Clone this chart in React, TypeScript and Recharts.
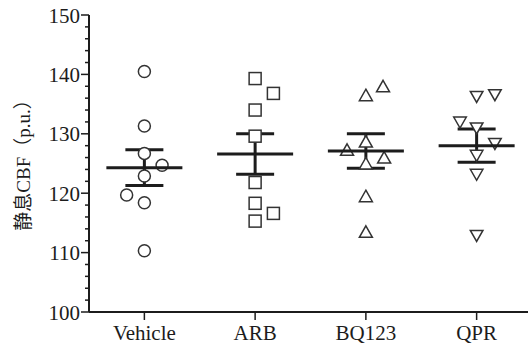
import React from 'react';
import { ScatterChart, Scatter, XAxis, YAxis, ErrorBar } from 'recharts';

// groups and tick labels
const groups = ['Vehicle', 'ARB', 'BQ123', 'QPR'];
const yMajorTicks = [100, 110, 120, 130, 140, 150];
const yAllTicks = [
  100, 102, 104, 106, 108, 110, 112, 114, 116, 118, 120, 122, 124,
  126, 128, 130, 132, 134, 136, 138, 140, 142, 144, 146, 148, 150,
];
const yLabel = '静息CBF（p.u.）';

// individual animals (value + horizontal jitter in group units)
const vehicleValues = [140.5, 131.3, 126.7, 124.7, 122.9, 119.7, 118.4, 110.3];
const vehicleJitter = [0, 0, 0, 0.16, 0, -0.16, 0, 0];
const arbValues = [139.3, 136.8, 134.0, 129.6, 121.8, 118.3, 116.6, 115.3];
const arbJitter = [0, 0.165, 0, 0, 0, 0, 0.165, 0];
const bq123Values = [138.0, 136.5, 127.3, 128.7, 126.0, 125.0, 119.5, 113.5];
const bq123Jitter = [0.155, 0, -0.17, 0, 0.165, 0, 0, 0];
const qprValues = [136.2, 136.5, 131.9, 130.9, 128.3, 126.3, 123.1, 112.8];
const qprJitter = [0, 0.165, -0.15, 0, 0.165, 0, 0, 0];

// mean ± SEM per group
const means = [124.3, 126.6, 127.1, 128.0];
const sems = [3.0, 3.4, 2.9, 2.8];

const toPoints = (idx: number, values: number[], jitter: number[]) =>
  values.map((v, i) => ({ x: idx + 1 + jitter[i], y: v }));

const vehicleData = toPoints(0, vehicleValues, vehicleJitter);
const arbData = toPoints(1, arbValues, arbJitter);
const bq123Data = toPoints(2, bq123Values, bq123Jitter);
const qprData = toPoints(3, qprValues, qprJitter);
const meanData = means.map((m, i) => ({ x: i + 1, y: m, sem: sems[i] }));

const INK = '#1c1c1c';
const SERIF = '"Liberation Serif", "Times New Roman", serif';
const LABEL_FONT = '"Liberation Serif", "Noto Sans CJK SC", serif';

const Marker = (kind: string) => (props: any) => {
  const { cx, cy } = props;
  const common = { fill: '#fff', stroke: '#333', strokeWidth: 1.5 };
  if (kind === 'circle') return <circle cx={cx} cy={cy} r={6} {...common} />;
  if (kind === 'square') return <rect x={cx - 6} y={cy - 6} width={12} height={12} {...common} />;
  if (kind === 'triangle')
    return <polygon points={`${cx},${cy - 6} ${cx + 6.5},${cy + 5.5} ${cx - 6.5},${cy + 5.5}`} {...common} />;
  return <polygon points={`${cx - 6.3},${cy - 5.5} ${cx + 6.3},${cy - 5.5} ${cx},${cy + 5.5}`} {...common} />;
};

const MeanLine = (props: any) => {
  const { cx, cy } = props;
  return <line x1={cx - 38} x2={cx + 38} y1={cy} y2={cy} stroke={INK} strokeWidth={3} />;
};

const XTick = (props: any) => {
  const { x, y, payload } = props;
  return (
    <text x={x} y={y} dy="0.8em" textAnchor="middle" style={{ fontFamily: SERIF, fontSize: 21, fill: INK }}>
      {groups[payload.value - 1]}
    </text>
  );
};

const YTick = (props: any) => {
  const { x, y, payload } = props;
  const major = yMajorTicks.includes(payload.value);
  return (
    <g>
      <line x1={x - (major ? 8 : 4)} x2={x} y1={y} y2={y} stroke={INK} strokeWidth={1.5} />
      {major && (
        <text x={x - 9} y={y} dy="0.36em" textAnchor="end" style={{ fontFamily: SERIF, fontSize: 21, fill: INK }}>
          {payload.value}
        </text>
      )}
    </g>
  );
};

const YLabel = (props: any) => {
  const vb = props.viewBox || { x: 0, y: 15, height: 297 };
  const cx = 23;
  const cy = vb.y + vb.height / 2 - 3;
  return (
    <text
      x={cx}
      y={cy}
      transform={`rotate(-90, ${cx}, ${cy})`}
      textAnchor="middle"
      dominantBaseline="central"
      style={{ fontFamily: LABEL_FONT, fontSize: 19, fill: INK }}
    >
      {yLabel}
    </text>
  );
};

export default function App() {
  return (
    <div style={{ position: 'absolute', left: 0, top: 0, width: 528, height: 347, overflow: 'hidden', background: '#fff' }}>
      <ScatterChart width={536} height={347} margin={{ top: 15, right: 4, left: 0, bottom: 0 }}>
        <XAxis
          type="number"
          dataKey="x"
          domain={[0.5, 4.5]}
          ticks={[1, 2, 3, 4]}
          allowDataOverflow
          height={35}
          tickSize={8}
          tickMargin={3}
          axisLine={{ stroke: INK, strokeWidth: 2 }}
          tickLine={{ stroke: INK, strokeWidth: 1.5 }}
          tick={<XTick />}
          interval={0}
        />
        <YAxis
          type="number"
          dataKey="y"
          domain={[100, 150]}
          ticks={yAllTicks}
          interval={0}
          allowDataOverflow
          width={89}
          tickSize={0}
          tickMargin={0}
          tickLine={false}
          axisLine={{ stroke: INK, strokeWidth: 2 }}
          tick={<YTick />}
          label={<YLabel />}
        />
        <Scatter data={vehicleData} shape={Marker('circle')} isAnimationActive={false} />
        <Scatter data={arbData} shape={Marker('square')} isAnimationActive={false} />
        <Scatter data={bq123Data} shape={Marker('triangle')} isAnimationActive={false} />
        <Scatter data={qprData} shape={Marker('down')} isAnimationActive={false} />
        <Scatter data={meanData} shape={<MeanLine />} isAnimationActive={false}>
          <ErrorBar dataKey="sem" direction="y" width={19} strokeWidth={3} stroke={INK} isAnimationActive={false} />
        </Scatter>
      </ScatterChart>
    </div>
  );
}
